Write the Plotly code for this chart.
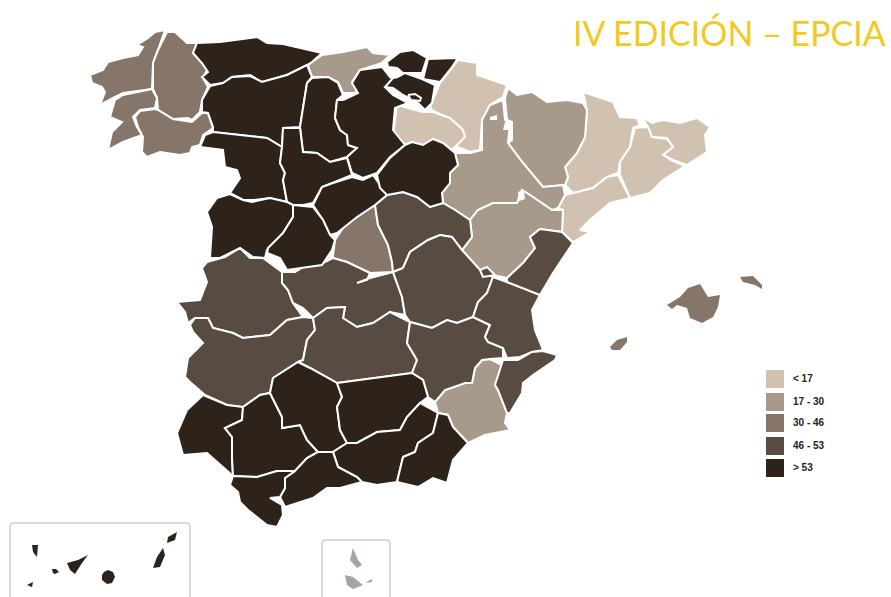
import plotly.graph_objects as go

# Map outlines, in the reference picture's own map units
A_CORUNA = [(165,30),(155,32),(148,38),(137,45),(143,47),(138,55),(123,58),(108,62),(103,70),(90,75),(92,83),(102,87),(105,92),(100,105),(113,98),(123,93),(152,89),(153,63),(158,50)]
LUGO = [(167,32),(175,32),(187,43),(197,43),(193,53),(202,63),(207,70),(203,78),(208,87),(202,100),(200,112),(192,120),(188,118),(173,119),(158,110),(157,98),(153,89),(153,63),(158,50)]
PONTEVEDRA = [(152,89),(123,95),(115,100),(110,117),(122,122),(112,132),(108,150),(123,142),(142,135),(137,127),(133,117),(140,110),(155,108),(157,98)]
OURENSE = [(155,109),(140,111),(135,117),(138,127),(143,137),(142,152),(147,157),(160,152),(180,155),(190,153),(192,147),(200,145),(203,135),(213,128),(208,113),(202,113),(192,122),(173,119),(158,110)]
ASTURIAS = [(197,43),(220,42),(257,37),(267,43),(283,44),(300,48),(322,53),(312,62),(307,65),(287,75),(262,82),(250,75),(232,77),(223,83),(210,85),(202,77),(208,72),(202,63),(193,53)]
LEON = [(210,86),(223,83),(232,77),(250,76),(262,82),(287,75),(307,65),(312,77),(307,83),(303,107),(300,127),(283,128),(282,147),(267,138),(240,135),(213,132),(213,127),(208,113),(202,112),(202,100)]
CANTABRIA = [(322,55),(343,52),(367,47),(373,53),(390,55),(382,63),(360,70),(352,82),(358,88),(355,93),(343,93),(338,82),(328,77),(312,77),(308,65)]
PALENCIA = [(312,78),(328,77),(338,83),(343,95),(337,100),(335,118),(340,130),(347,135),(348,145),(357,148),(347,157),(330,162),(317,153),(303,152),(300,127),(303,107),(307,83)]
BURGOS = [(343,100),(358,93),(352,83),(360,70),(382,67),(390,77),(397,82),(385,87),(393,95),(408,103),(395,108),(393,130),(405,145),(390,157),(377,173),(363,178),(352,173),(347,157),(357,148),(348,145),(347,135),(340,130),(335,118),(337,100)]
TREVINO = [(408,95),(415,94),(421,98),(420,101),(411,100)]
VIZCAYA = [(387,62),(400,52),(413,50),(427,58),(422,73),(403,73),(397,68),(388,67)]
GUIPUZCOA = [(428,59),(458,58),(452,67),(440,82),(423,79),(425,70)]
ALAVA = [(398,77),(405,73),(422,79),(435,85),(432,103),(425,110),(418,103),(403,95),(393,88),(385,87),(393,78)]
NAVARRA = [(458,60),(477,63),(477,75),(507,85),(503,97),(490,105),(482,120),(480,150),(470,152),(455,146),(463,138),(463,130),(450,118),(433,111),(430,107),(440,83),(452,68)]
LA_RIOJA = [(397,105),(423,112),(433,112),(450,118),(463,130),(465,137),(455,147),(452,150),(443,143),(433,139),(423,145),(412,142),(403,145),(393,137),(395,120)]
SORIA = [(405,145),(412,142),(423,145),(433,139),(443,143),(455,153),(458,165),(450,173),(450,183),(442,193),(443,203),(430,207),(417,197),(403,192),(387,195),(380,188),(377,175),(390,158)]
SEGOVIA = [(352,177),(363,180),(373,175),(387,195),(375,205),(357,217),(337,233),(330,235),(323,220),(313,205),(322,187),(333,183)]
VALLADOLID = [(283,128),(300,128),(303,152),(317,153),(330,162),(347,158),(352,175),(333,183),(322,187),(313,203),(303,205),(293,205),(287,202),(283,180),(285,173),(280,163),(282,147)]
ZAMORA = [(200,147),(205,135),(213,132),(240,135),(267,138),(282,147),(280,163),(285,173),(283,180),(287,202),(270,198),(253,200),(243,200),(230,193),(240,178),(237,170),(225,167),(223,150),(207,148)]
SALAMANCA = [(230,194),(243,200),(252,202),(270,198),(287,202),(293,205),(293,217),(283,233),(267,250),(265,258),(253,257),(240,248),(220,258),(210,258),(212,227),(207,212),(217,198)]
AVILA = [(293,205),(313,207),(323,220),(330,235),(335,240),(332,250),(322,265),(307,267),(287,270),(280,258),(267,253),(268,248),(283,233),(293,217)]
MADRID = [(375,205),(378,225),(388,245),(392,262),(393,272),(370,273),(347,262),(333,258),(333,255),(335,240),(345,225),(357,217)]
GUADALAJARA = [(387,195),(403,192),(417,197),(430,207),(443,203),(455,210),(470,220),(472,237),(462,250),(452,237),(440,235),(428,240),(410,252),(403,268),(393,272),(392,262),(388,245),(378,225),(375,205)]
ZARAGOZA = [(503,100),(505,120),(510,123),(508,143),(523,163),(543,187),(563,185),(565,195),(558,208),(552,210),(533,197),(522,190),(517,203),(493,203),(478,210),(470,220),(455,210),(443,203),(442,193),(450,183),(450,173),(458,165),(455,153),(470,153),(482,150),(482,120),(490,105)]
HUESCA = [(508,88),(517,95),(532,92),(547,102),(567,100),(583,103),(587,110),(585,137),(577,153),(565,167),(568,177),(565,185),(543,187),(523,163),(508,143),(512,140),(512,122),(507,120),(505,98)]
LLEIDA = [(583,92),(597,97),(613,102),(620,117),(637,118),(640,125),(633,128),(630,147),(620,162),(618,173),(607,177),(593,188),(573,193),(565,185),(568,177),(565,167),(577,153),(585,137),(587,110)]
GIRONA = [(642,117),(652,123),(663,120),(680,123),(697,118),(710,127),(705,135),(707,152),(687,165),(673,160),(663,155),(673,147),(667,138),(652,137),(648,127)]
BARCELONA = [(635,128),(648,127),(652,137),(667,139),(673,147),(663,155),(673,161),(685,166),(663,180),(650,193),(630,198),(620,175),(620,162),(630,147)]
TARRAGONA = [(618,175),(630,198),(610,203),(590,220),(580,230),(590,232),(573,242),(562,232),(563,210),(558,208),(565,195),(573,193),(593,188),(607,177)]
TERUEL = [(470,220),(478,210),(493,203),(517,203),(522,190),(533,197),(552,210),(563,210),(562,232),(540,229),(530,237),(535,248),(523,263),(507,278),(493,275),(480,270),(462,250),(472,237)]
CASTELLON = [(540,229),(562,232),(573,243),(553,273),(540,295),(523,288),(507,282),(507,278),(523,263),(535,248),(530,237)]
VALENCIA = [(493,277),(507,282),(523,288),(540,295),(532,310),(535,330),(543,350),(532,352),(520,357),(507,358),(503,348),(488,342),(485,337),(490,325),(473,317),(478,302),(487,293)]
ADEMUZ = [(480,270),(487,267),(495,275),(483,277)]
ALICANTE = [(503,360),(518,360),(532,352),(543,351),(557,355),(555,360),(533,375),(523,383),(522,393),(510,413),(507,413),(498,390),(495,385),(502,365)]
MURCIA = [(435,402),(445,390),(465,383),(472,383),(475,368),(482,360),(490,359),(502,365),(495,385),(498,390),(507,413),(505,423),(510,430),(485,435),(468,443),(462,437),(453,427),(448,415),(438,413)]
ALBACETE = [(410,322),(432,328),(447,320),(457,323),(473,317),(490,325),(485,337),(488,342),(503,348),(503,358),(490,359),(482,360),(475,368),(472,383),(465,383),(445,390),(435,402),(428,397),(423,380),(412,373),(417,360),(407,343)]
CUENCA = [(403,268),(410,252),(428,240),(440,235),(452,237),(462,250),(480,270),(493,277),(487,293),(478,302),(473,317),(457,323),(447,320),(432,328),(410,322),(405,315),(402,297),(393,272)]
TOLEDO = [(282,272),(295,272),(310,263),(323,263),(333,258),(347,262),(370,273),(367,280),(357,283),(370,278),(393,272),(402,297),(405,315),(390,312),(373,323),(357,327),(343,318),(345,307),(327,308),(313,318),(303,308),(293,303),(288,290),(282,283)]
CACERES = [(207,262),(225,257),(240,248),(250,258),(263,258),(282,272),(282,283),(288,290),(293,303),(303,317),(287,320),(270,335),(243,338),(233,333),(213,328),(208,318),(195,318),(188,323),(185,312),(177,302),(200,300),(207,282),(202,268)]
BADAJOZ = [(190,325),(195,318),(208,318),(213,328),(233,333),(243,338),(270,335),(287,320),(303,317),(313,318),(315,330),(307,340),(303,360),(298,362),(273,378),(270,393),(260,395),(243,407),(227,405),(205,395),(190,382),(185,377),(188,358),(203,343),(193,332)]
CIUDAD_REAL = [(313,318),(327,308),(345,307),(343,318),(357,327),(373,323),(390,312),(410,322),(407,343),(417,360),(412,373),(380,377),(337,383),(310,368),(298,362),(303,360),(307,340),(315,330)]
CORDOBA = [(298,362),(310,368),(337,383),(342,397),(337,407),(340,430),(347,443),(333,452),(318,452),(307,440),(300,425),(282,428),(282,417),(270,393),(273,378)]
JAEN = [(337,383),(380,377),(412,373),(423,380),(428,397),(420,403),(407,417),(400,430),(377,432),(357,443),(347,443),(340,430),(337,407),(342,397)]
GRANADA = [(347,443),(357,443),(377,432),(400,430),(407,417),(420,403),(438,413),(433,433),(418,443),(415,452),(403,457),(397,482),(377,485),(362,482),(357,477),(338,467),(333,452)]
ALMERIA = [(438,413),(448,415),(453,427),(462,437),(468,443),(453,460),(447,483),(433,478),(418,487),(397,482),(403,457),(415,452),(418,443),(433,433)]
MALAGA = [(318,452),(333,452),(338,467),(357,477),(362,482),(340,488),(327,488),(313,498),(285,507),(280,497),(285,488),(285,478),(295,471),(307,458)]
SEVILLA = [(243,407),(260,395),(270,393),(282,417),(282,428),(300,425),(307,440),(318,452),(307,458),(295,471),(277,471),(257,477),(233,476),(232,457),(232,437),(225,428),(242,420)]
HUELVA = [(203,395),(227,405),(243,407),(242,420),(225,428),(232,437),(232,457),(233,476),(207,453),(183,455),(177,433),(187,410)]
CADIZ = [(233,476),(257,477),(277,471),(295,471),(285,478),(285,488),(280,497),(270,498),(282,505),(283,515),(277,527),(267,525),(248,510),(240,502),(238,492),(230,485)]
MALLORCA = [(667,305),(680,297),(688,288),(700,284),(705,292),(708,297),(720,295),(718,307),(713,317),(702,323),(690,318),(687,308),(677,305),(672,309)]
MENORCA = [(740,277),(753,276),(762,285),(762,289),(755,285),(743,282)]
IBIZA = [(610,347),(617,340),(627,337),(627,342),(620,350),(612,350)]
HIERRO = [(27,585),(33,582),(32,587)]
LA_PALMA = [(32,545),(38,545),(37,557),(33,552)]
GOMERA = [(52,569),(56,569),(59,572),(55,574),(53,573)]
TENERIFE = [(67,563),(78,560),(88,555),(82,563),(75,574),(70,570)]
GRAN_CANARIA = [(104,572),(108,570),(113,572),(115,577),(112,583),(107,584),(102,580),(102,575)]
FUERTEVENTURA = [(163,548),(165,555),(160,567),(153,568),(157,557)]
LANZAROTE = [(177,532),(175,540),(167,543),(168,537)]
CEUTA = [(353,548),(358,560),(362,565),(357,568),(350,560)]
MELILLA = [(345,575),(353,577),(363,585),(353,589),(347,585)]
MELILLA_B = [(365,583),(372,579),(372,582)]
GAP_A = [(490,117),(497,115),(497,120),(490,120)]
GAP_B = [(505,122),(512,122),(512,130),(503,130)]
GAP_C = [(518,192),(524,190),(525,199),(519,201)]

# Class of each province: index into CLASS_LABELS
CLASS_LABELS = ["< 17", "17 - 30", "30 - 46", "46 - 53", "> 53"]
LOWEST = [NAVARRA, LA_RIOJA, LLEIDA, GIRONA, BARCELONA, TARRAGONA]
LOW = [CANTABRIA, HUESCA, ZARAGOZA, TERUEL, MURCIA]
MIDDLE = [A_CORUNA, LUGO, PONTEVEDRA, OURENSE, MADRID, MALLORCA, MENORCA, IBIZA]
HIGH = [GUADALAJARA, CACERES, TOLEDO, CUENCA, BADAJOZ, CIUDAD_REAL, ALBACETE, VALENCIA, ALICANTE, CASTELLON, ADEMUZ]
HIGHEST = [ASTURIAS, LEON, PALENCIA, BURGOS, VIZCAYA, GUIPUZCOA, ALAVA, TREVINO, ZAMORA, VALLADOLID, SEGOVIA, SORIA,
           SALAMANCA, AVILA, HUELVA, SEVILLA, CORDOBA, JAEN, GRANADA, ALMERIA, MALAGA, CADIZ,
           HIERRO, LA_PALMA, GOMERA, TENERIFE, GRAN_CANARIA, FUERTEVENTURA, LANZAROTE]
NO_CLASS = [CEUTA, MELILLA, MELILLA_B]
GAPS = [GAP_A, GAP_B, GAP_C]
TITLE = "IV EDICIÓN – EPCIA"

COLORS = ["#d1c1b1", "#a89a8b", "#857669", "#574b42", "#2e231b"]
NO_CLASS_COLOR = "#a9a1a4"
LEGEND_X, LEGEND_TEXT_X, LEGEND_Y = 775, 793, [379, 402, 423, 446, 468]

fig = go.Figure()

def add_polygon(poly, fill, line_w):
    xs = [p[0] for p in poly] + [poly[0][0]]
    ys = [p[1] for p in poly] + [poly[0][1]]
    fig.add_trace(go.Scatter(x=xs, y=ys, mode="lines", fill="toself", fillcolor=fill,
                             line=dict(color="white", width=line_w), hoverinfo="skip", showlegend=False))

ISLANDS = [MALLORCA, MENORCA, IBIZA, HIERRO, LA_PALMA, GOMERA, TENERIFE, GRAN_CANARIA, FUERTEVENTURA, LANZAROTE]
for group, color in zip([LOWEST, LOW, MIDDLE, HIGH, HIGHEST], COLORS):
    for poly in group:
        add_polygon(poly, color, 0 if any(poly is i for i in ISLANDS) else 2)
for poly in NO_CLASS:
    add_polygon(poly, NO_CLASS_COLOR, 0)
for poly in GAPS:
    add_polygon(poly, "white", 0)

fig.add_trace(go.Scatter(x=[LEGEND_X] * 5, y=LEGEND_Y, mode="markers",
                         marker=dict(symbol="square", size=18, color=COLORS, line=dict(width=0)),
                         hoverinfo="skip", showlegend=False))
fig.add_trace(go.Scatter(x=[LEGEND_TEXT_X] * 5, y=LEGEND_Y, mode="text", text=[f"<b>{t}</b>" for t in CLASS_LABELS],
                         textposition="middle right", textfont=dict(family="Liberation Sans", size=10, color="#222222"),
                         hoverinfo="skip", showlegend=False))

frame = dict(type="path", line=dict(color="#d9d9d9", width=2), layer="below", xref="x", yref="y")
fig.update_layout(
    width=891, height=597, margin=dict(l=0, r=0, t=0, b=0), paper_bgcolor="white", plot_bgcolor="white",
    xaxis=dict(range=[0, 891], visible=False, fixedrange=True),
    yaxis=dict(range=[597, 0], visible=False, fixedrange=True),
    shapes=[
        dict(frame, path="M 10 610 L 10 527 Q 10 523 14 523 L 186 523 Q 190 523 190 527 L 190 610"),
        dict(frame, path="M 322 610 L 322 544 Q 322 540 326 540 L 386 540 Q 390 540 390 544 L 390 610"),
    ],
    annotations=[dict(x=888, y=32, xref="x", yref="y", xanchor="right", yanchor="middle", showarrow=False,
                      text=TITLE, font=dict(family="Lato", size=34, color="#f4c91f"))],
)
fig.write_html("out.html", config={"displayModeBar": False}, post_script="document.body.style.margin='0';")
